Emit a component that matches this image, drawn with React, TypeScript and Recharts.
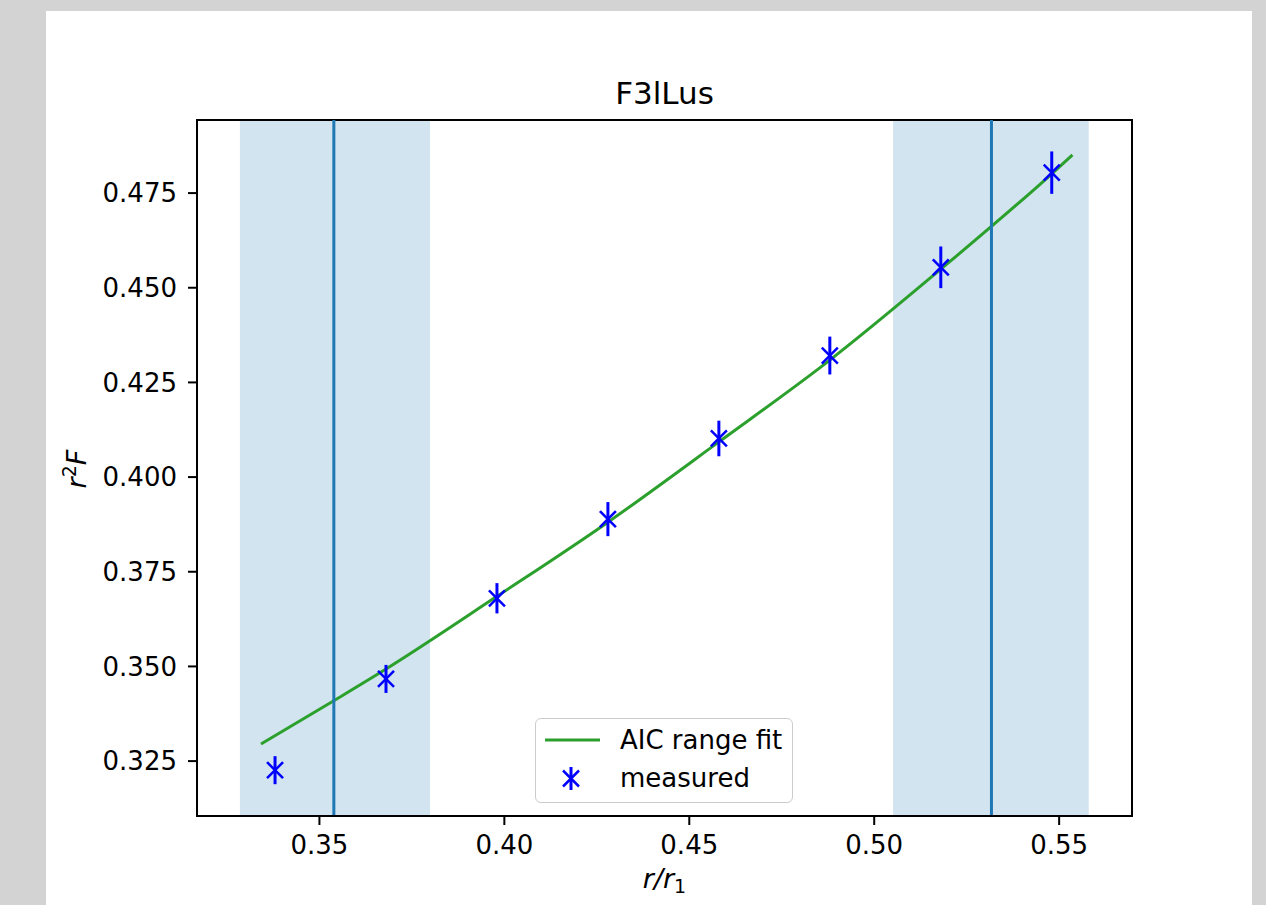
import React from "react";
import {
  ComposedChart,
  Line,
  Scatter,
  ErrorBar,
  XAxis,
  YAxis,
  ReferenceArea,
  ReferenceLine,
  Legend,
} from "recharts";

// measured points (r/r1, r^2 F, error)
const measuredX = [0.338, 0.368, 0.398, 0.428, 0.458, 0.488, 0.518, 0.548];
const measuredY = [0.3226, 0.3467, 0.3680, 0.3889, 0.4102, 0.4321, 0.4554, 0.4804];
const measuredErr = [0.0037, 0.0037, 0.004, 0.0045, 0.0047, 0.005, 0.0055, 0.0056];

// fitted curve
const fitX = [0.3342, 0.354, 0.368, 0.398, 0.428, 0.458, 0.488, 0.518, 0.548, 0.5536];
const fitY = [0.3295, 0.341, 0.3493, 0.3685, 0.3881, 0.4093, 0.4309, 0.4549, 0.4801, 0.4851];

// shaded ranges and their centre lines
const spans = [
  [0.3285, 0.3799],
  [0.5051, 0.558],
];
const markerLines = [0.3539, 0.5317];

const xTicks = [0.35, 0.4, 0.45, 0.5, 0.55];
const yTicks = [0.325, 0.35, 0.375, 0.4, 0.425, 0.45, 0.475];
const xDomain = [0.3169, 0.5697];
const yDomain = [0.3105, 0.4943];

const title = "F3lLus";
const fitName = "AIC range fit";
const measuredName = "measured";

const FONT = "DejaVu Sans, sans-serif";
const C0 = "#1f77b4";
const GREEN = "#2ca02c";
const BLUE = "#0000ff";

const fitRows = fitX.map((x, i) => ({ x, y: fitY[i] }));
const measuredRows = measuredX.map((x, i) => ({ x, y: measuredY[i], err: measuredErr[i] }));

function XMark(props: any) {
  const { cx, cy } = props;
  if (cx == null || cy == null) return null;
  const s = 8;
  return (
    <g stroke={BLUE} strokeWidth={2.5}>
      <line x1={cx - s} y1={cy - s} x2={cx + s} y2={cy + s} />
      <line x1={cx - s} y1={cy + s} x2={cx + s} y2={cy - s} />
    </g>
  );
}

function Title() {
  return (
    <text x={618.5} y={93} textAnchor="middle" fontSize={31} fontFamily={FONT} fill="#000">
      {title}
    </text>
  );
}

function XLabel(props: any) {
  const vb = props.viewBox || { x: 151, y: 805, width: 935 };
  return (
    <text x={vb.x + vb.width / 2} y={vb.y + 72} textAnchor="middle" fontSize={27} fontFamily={FONT} fill="#000">
      <tspan fontStyle="italic">r</tspan>
      <tspan fontStyle="italic">/</tspan>
      <tspan fontStyle="italic">r</tspan>
      <tspan dy={5} fontSize={19}>1</tspan>
    </text>
  );
}

function YLabel() {
  const cx = 40;
  const cy = 458;
  return (
    <text x={cx} y={cy} textAnchor="middle" fontSize={27} fontFamily={FONT} fill="#000" transform={`rotate(-90, ${cx}, ${cy})`}>
      <tspan fontStyle="italic">r</tspan>
      <tspan dy={-10} fontSize={19}>2</tspan>
      <tspan dy={10} fontStyle="italic">F</tspan>
    </text>
  );
}

function LegendBox() {
  return (
    <div
      style={{
        width: 258,
        height: 85,
        boxSizing: "border-box",
        border: "1.5px solid #cccccc",
        borderRadius: 6,
        background: "rgba(255,255,255,0.8)",
      }}
    >
      <svg width={256} height={83} style={{ display: "block" }}>
        <line x1={9} y1={21} x2={64} y2={21} stroke={GREEN} strokeWidth={3} />
        <text x={84} y={30} fontSize={26} fontFamily={FONT} fill="#000">
          {fitName}
        </text>
        <line x1={35} y1={48} x2={35} y2={71} stroke={BLUE} strokeWidth={3} />
        <XMark cx={35} cy={59.5} />
        <text x={84} y={68} fontSize={26} fontFamily={FONT} fill="#000">
          {measuredName}
        </text>
      </svg>
    </div>
  );
}

const tickStyle = { fill: "#000", fontSize: 26, fontFamily: FONT };
const axisStroke = { stroke: "#000", strokeWidth: 2 };

export default function App() {
  return (
    <div
      style={{
        position: "absolute",
        left: 0,
        top: 0,
        width: 1266,
        height: 905,
        background: "#d3d3d3",
        overflow: "hidden",
      }}
    >
      <div
        style={{
          position: "absolute",
          left: 46,
          top: 11,
          width: 1206,
          height: 904,
          background: "#ffffff",
        }}
      >
        <ComposedChart width={1206} height={894} margin={{ top: 109, right: 120, bottom: 29, left: 51 }}>
          <XAxis
            dataKey="x"
            type="number"
            domain={xDomain}
            ticks={xTicks}
            allowDataOverflow
            tickFormatter={(v) => Number(v).toFixed(2)}
            tick={tickStyle}
            tickSize={9}
            tickMargin={11}
            tickLine={axisStroke}
            axisLine={axisStroke}
            height={60}
            label={<XLabel />}
          />
          <YAxis
            type="number"
            domain={yDomain}
            ticks={yTicks}
            allowDataOverflow
            tickFormatter={(v) => Number(v).toFixed(3)}
            tick={tickStyle}
            tickSize={9}
            tickMargin={11}
            tickLine={axisStroke}
            axisLine={axisStroke}
            width={100}
          />
          {spans.map(([a, b], i) => (
            <ReferenceArea key={`span-${i}`} x1={a} x2={b} fill={C0} fillOpacity={0.2} stroke="none" ifOverflow="hidden" />
          ))}
          <Line
            data={fitRows}
            dataKey="y"
            name={fitName}
            type="monotone"
            stroke={GREEN}
            strokeWidth={3}
            dot={false}
            activeDot={false}
            isAnimationActive={false}
          />
          {markerLines.map((x, i) => (
            <ReferenceLine key={`vl-${i}`} x={x} stroke={C0} strokeWidth={3} />
          ))}
          <Scatter data={measuredRows} dataKey="y" name={measuredName} shape={<XMark />} isAnimationActive={false}>
            <ErrorBar dataKey="err" direction="y" width={0} stroke={BLUE} strokeWidth={3} isAnimationActive={false} />
          </Scatter>
          {/* axes frame: box around the whole plotting area */}
          <ReferenceArea
            x1={xDomain[0]}
            x2={xDomain[1]}
            y1={yDomain[0]}
            y2={yDomain[1]}
            fill="none"
            stroke="#000"
            strokeWidth={2}
            ifOverflow="visible"
          />
          <Legend
            layout="horizontal"
            verticalAlign="middle"
            align="center"
            content={<LegendBox />}
            wrapperStyle={{ left: 489, top: 707, width: 258, height: 85 }}
          />
          <Title />
          <YLabel />
        </ComposedChart>
      </div>
    </div>
  );
}
